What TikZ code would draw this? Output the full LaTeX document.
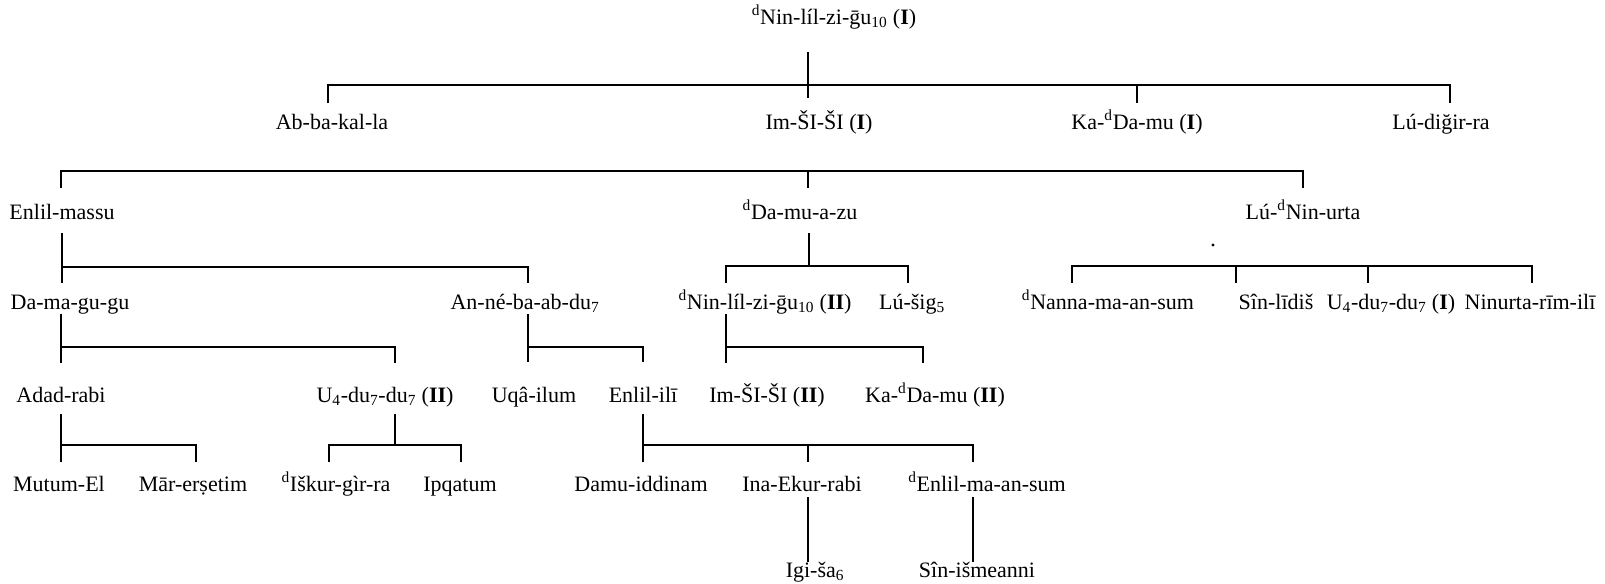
\documentclass[tikz,border=0pt]{standalone}
\usepackage{fontspec}
\setmainfont{Liberation Serif}
\newcommand\dt{\textsuperscript{d}}
\newcommand\sbs[1]{\textsubscript{#1}}
\newcommand\rn[1]{\textbf{#1}}

\begin{document}
\begin{tikzpicture}[x=0.75pt,y=-0.75pt,
  nm/.style={anchor=base,inner sep=0pt,font=\fontsize{16.5}{18}\selectfont},
  ln/.style={line width=1.5pt}]
\useasboundingbox (0,0) rectangle (1605,583);

% generation 0
\node[nm] (n0) at (834,24) {\dt Nin-líl-zi-ḡu\sbs{10} (\rn{I})};
% generation 1
\node[nm] (ab)    at (332,129)  {Ab-ba-kal-la};
\node[nm] (im1)   at (819,129)  {Im-ŠI-ŠI (\rn{I})};
\node[nm] (ka1)   at (1137,129) {Ka-\dt Da-mu (\rn{I})};
\node[nm] (ludig) at (1441,129) {Lú-diğir-ra};
% generation 2
\node[nm] (enm) at (62,219)   {Enlil-massu};
\node[nm] (dam) at (800,219)  {\dt Da-mu-a-zu};
\node[nm] (lun) at (1303,219) {Lú-\dt Nin-urta};
% generation 3
\node[nm] (dmg)  at (70,309)   {Da-ma-gu-gu};
\node[nm] (ane)  at (525,309)  {An-né-ba-ab-du\sbs7};
\node[nm] (nin2) at (765,309)  {\dt Nin-líl-zi-ḡu\sbs{10} (\rn{II})};
\node[nm] (lus)  at (912,309)  {Lú-šig\sbs5};
\node[nm] (nan)  at (1108,309) {\dt Nanna-ma-an-sum};
\node[nm] (sin)  at (1276,309) {Sîn-līdiš};
\node[nm] (u4a)  at (1391,309) {U\sbs4-du\sbs7-du\sbs7 (\rn{I})};
\node[nm] (nri)  at (1530,309) {Ninurta-rīm-ilī};
% generation 4
\node[nm] (adr) at (61,402)  {Adad-rabi};
\node[nm] (u4b) at (385,402) {U\sbs4-du\sbs7-du\sbs7 (\rn{II})};
\node[nm] (uqa) at (534,402) {Uqâ-ilum};
\node[nm] (eni) at (643,402) {Enlil-ilī};
\node[nm] (im2) at (767,402) {Im-ŠI-ŠI (\rn{II})};
\node[nm] (ka2) at (935,402) {Ka-\dt Da-mu (\rn{II})};
% generation 5
\node[nm] (mut) at (59,491)  {Mutum-El};
\node[nm] (mar) at (193,491) {Mār-erṣetim};
\node[nm] (isk) at (336,491) {\dt Iškur-gìr-ra};
\node[nm] (ipq) at (460,491) {Ipqatum};
\node[nm] (dai) at (641,491) {Damu-iddinam};
\node[nm] (ina) at (802,491) {Ina-Ekur-rabi};
\node[nm] (enl) at (987,491) {\dt Enlil-ma-an-sum};
% generation 6
\node[nm] (igi) at (815,577) {Igi-ša\sbs6};
\node[nm] (sis) at (977,577) {Sîn-išmeanni};

% junction points of the family bars
\coordinate (s0a) at (808,52);   \coordinate (s0b) at (808,98);
\coordinate (b0l) at (328,85);   \coordinate (b0m) at (1137,85);  \coordinate (b0r) at (1450,85);
\coordinate (b1l) at (61,171);   \coordinate (b1m) at (808,171);  \coordinate (b1r) at (1303,171);
\coordinate (s2a) at (62,233);   \coordinate (b2al) at (62,267);  \coordinate (b2ar) at (528,267);
\coordinate (s2b) at (809,233);  \coordinate (b2bs) at (809,266);
\coordinate (b2bl) at (726,266); \coordinate (b2br) at (908,266);
\coordinate (b2cl) at (1072,266); \coordinate (b2c1) at (1236,266);
\coordinate (b2c2) at (1368,266); \coordinate (b2cr) at (1532,266);
\coordinate (s3a) at (61,314);   \coordinate (b3al) at (61,347);  \coordinate (b3ar) at (395,347);
\coordinate (s3b) at (528,314);  \coordinate (b3bl) at (528,347); \coordinate (b3br) at (643,347);
\coordinate (s3c) at (726,314);  \coordinate (b3cl) at (726,347); \coordinate (b3cr) at (923,347);
\coordinate (s4a) at (61,414);   \coordinate (b4al) at (61,445);  \coordinate (b4ar) at (196,445);
\coordinate (s4b) at (395,414);  \coordinate (b4bs) at (395,445);
\coordinate (b4bl) at (329,445); \coordinate (b4br) at (461,445);
\coordinate (s4c) at (643,414);  \coordinate (b4cl) at (643,445);
\coordinate (b4cm) at (808,445); \coordinate (b4cr) at (973,445);
\coordinate (s5a) at (808,497);  \coordinate (s5b) at (973,497);

% children of the first generation
\draw[ln] (s0a) -- (s0b);
\draw[ln] (b0l) ++(0,18) -- (b0l) -- (b0r) -- ++(0,18);
\draw[ln] (b0m) -- ++(0,18);
% second generation
\draw[ln] (b1l) ++(0,17) -- (b1l) -- (b1r) -- ++(0,17);
\draw[ln] (b1m) -- ++(0,17);
% third generation
\draw[ln] (s2a) -- ++(0,50);
\draw[ln] (b2al) -- (b2ar) -- ++(0,16);
\draw[ln] (s2b) -- (b2bs);
\draw[ln] (b2bl) ++(0,17) -- (b2bl) -- (b2br) -- ++(0,17);
\draw[ln] (b2cl) ++(0,17) -- (b2cl) -- (b2cr) -- ++(0,17);
\draw[ln] (b2c1) -- ++(0,17);
\draw[ln] (b2c2) -- ++(0,17);
\fill (1213,245) circle (1.2pt);
% fourth generation
\draw[ln] (s3a) -- ++(0,49);
\draw[ln] (b3al) -- (b3ar) -- ++(0,16);
\draw[ln] (s3b) -- ++(0,48);
\draw[ln] (b3bl) -- (b3br) -- ++(0,15);
\draw[ln] (s3c) -- ++(0,49);
\draw[ln] (b3cl) -- (b3cr) -- ++(0,16);
% fifth generation
\draw[ln] (s4a) -- ++(0,48);
\draw[ln] (b4al) -- (b4ar) -- ++(0,17);
\draw[ln] (s4b) -- (b4bs);
\draw[ln] (b4bl) ++(0,17) -- (b4bl) -- (b4br) -- ++(0,17);
\draw[ln] (s4c) -- ++(0,48);
\draw[ln] (b4cl) -- (b4cr) -- ++(0,17);
\draw[ln] (b4cm) -- ++(0,17);
% sixth generation
\draw[ln] (s5a) -- ++(0,65);
\draw[ln] (s5b) -- ++(0,65);
\end{tikzpicture}
\end{document}
